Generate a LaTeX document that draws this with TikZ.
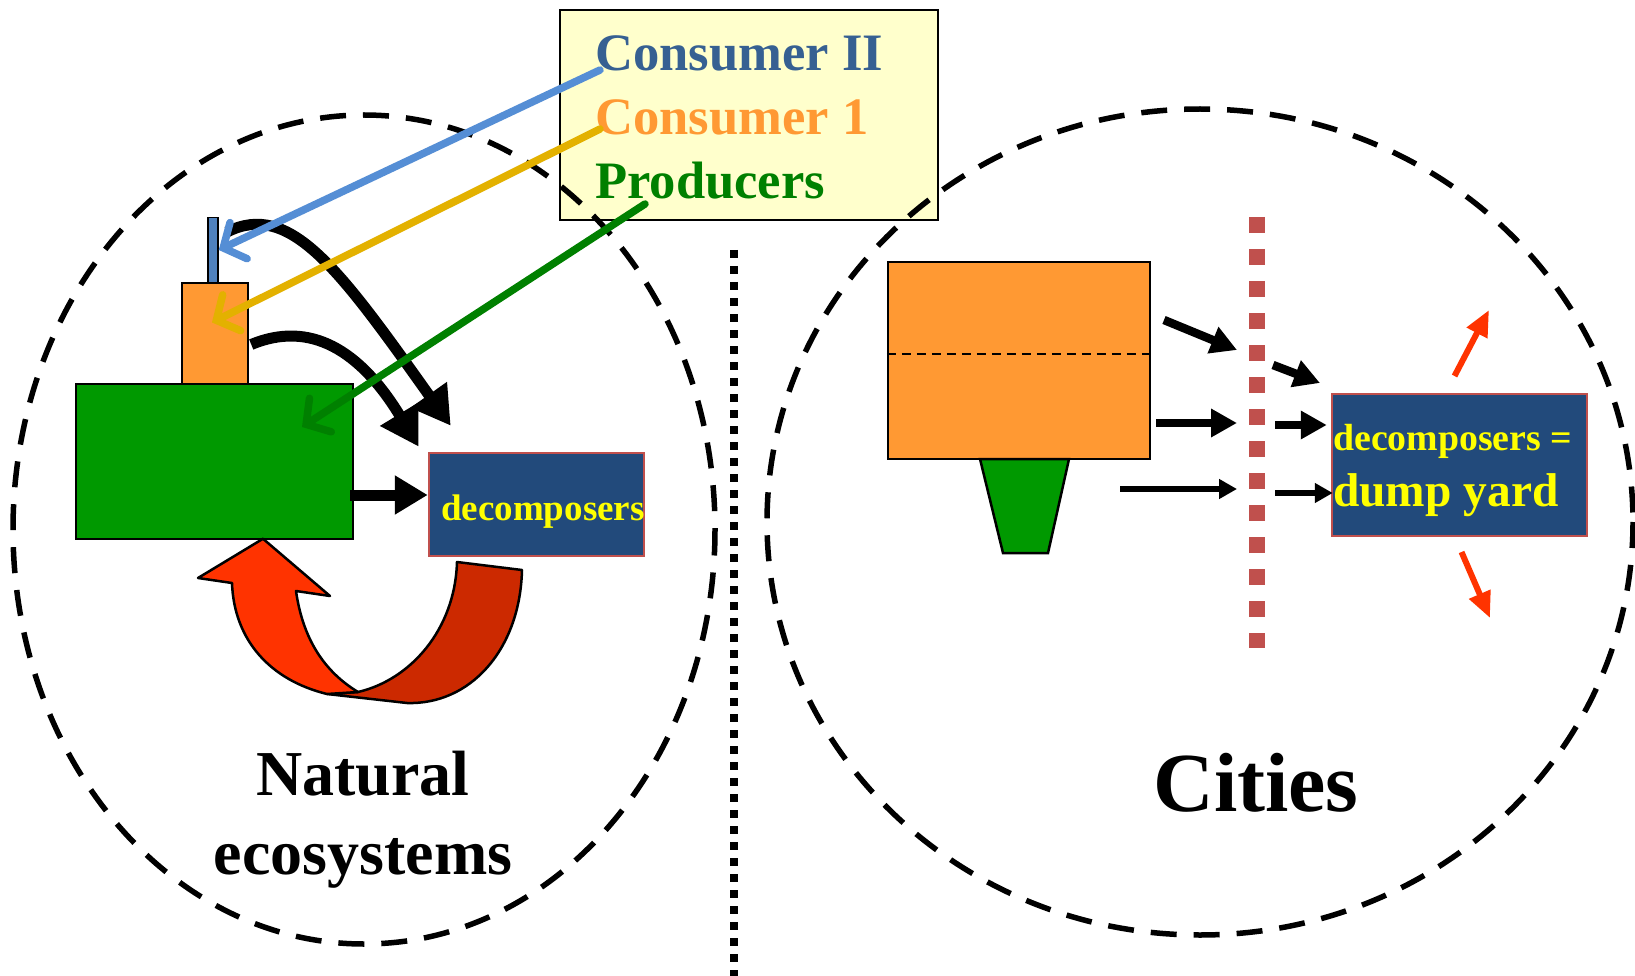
\documentclass[tikz,border=0pt]{standalone}
\usepackage{fontspec}
\setmainfont{Liberation Serif}
\usetikzlibrary{arrows.meta}

\definecolor{prodgreen}{HTML}{009900}
\definecolor{consorange}{HTML}{FF9933}
\definecolor{barblue}{HTML}{4F81BD}
\definecolor{decblue}{HTML}{224A7B}
\definecolor{decedge}{HTML}{C0504D}
\definecolor{legfill}{HTML}{FFFFCC}
\definecolor{txtblue}{HTML}{366092}
\definecolor{txtgreen}{HTML}{008000}
\definecolor{lineblue}{HTML}{558ED5}
\definecolor{linegold}{HTML}{E3B100}
\definecolor{arrowred}{HTML}{FF3300}
\definecolor{arrowdark}{HTML}{CC2900}
\definecolor{txtyellow}{HTML}{FFFF00}

\begin{document}
\begin{tikzpicture}[x=1pt,y=-1pt,
  box/.style={draw=black, line width=2.5pt, inner sep=0pt, anchor=center},
  label/.style={inner sep=0pt, anchor=base west, font=\bfseries},
  title/.style={inner sep=0pt, anchor=base, font=\bfseries\fontsize{64}{70}\selectfont},
  ring/.style={draw=black, line width=5.5pt, dash pattern=on 26pt off 17pt},
  flow/.style={line width=11pt, -{Triangle[length=38pt,width=42pt]}},
  pointer/.style={line width=7.5pt, line cap=round, -{Straight Barb[length=17pt,width=40pt,line cap=round]}},
  wide/.style={line width=8.5pt, -{Triangle[length=26pt,width=27pt]}},
  slim/.style={line width=5.5pt, -{Triangle[length=18pt,width=19pt]}},
  spill/.style={arrowred, line width=6pt, -{Triangle[length=26pt,width=22pt]}}]

\useasboundingbox (0,0) rectangle (1635,976);
\fill[white] (0,0) rectangle (1635,976);

% legend box with the three trophic levels
\node[box, fill=legfill, minimum width=378pt, minimum height=210pt] (leg) at (749,115) {};
\node[label, text=txtblue, font=\bfseries\fontsize{52.6}{60}\selectfont] (t2) at (595,71) {Consumer II};
\node[label, text=consorange, font=\bfseries\fontsize{52.6}{60}\selectfont] (t1) at (595,135) {Consumer 1};
\node[label, text=txtgreen, font=\bfseries\fontsize{52.6}{60}\selectfont] (t0) at (595,199) {Producers};

% the two systems
\draw[ring] (364,529.5) ellipse [x radius=351, y radius=414.5];
\draw[ring] (1200,522) ellipse [x radius=433, y radius=413];

% divider between the two halves
\draw[line width=8pt, dash pattern=on 8pt off 8pt] (734,250) -- (734,976);

% ---------------- natural ecosystem ----------------
\node[box, fill=consorange, minimum width=66pt, minimum height=103pt] (c1) at (215,334.5) {};
\node[box, fill=prodgreen, minimum width=277pt, minimum height=155pt] (prod) at (214.5,461.5) {};
\node[box, line width=1.5pt, fill=barblue, minimum width=10pt, minimum height=65pt] (c2) at (213,250) {};
\node[box, draw=decedge, fill=decblue, minimum width=215pt, minimum height=103pt] (dec) at (536.5,504.5) {};
\node[label, text=txtyellow, font=\bfseries\fontsize{37}{42}\selectfont] (dect) at (441,520) {decomposers};

% flows into the decomposers
\draw[flow] ([shift={(2,10)}]c1.east) .. controls (310,320) and (360,350) .. ([shift={(-9,-5)}]dec.north west);
\draw[flow] ([shift={(14,-18)}]c2.center) .. controls (290,200) and (340,270) .. ([shift={(23,-26)}]dec.north west);
\draw[line width=11pt, -{Triangle[length=33pt,width=37pt]}] ([shift={(-4,33.5)}]prod.east) -- ([shift={(0,-9.5)}]dec.west);

% pointers from the legend
\draw[pointer, lineblue] ([shift={(5,-1)}]t2.base west) -- (c2.east);
\draw[pointer, linegold] ([shift={(5,-6)}]t1.base west) -- ([shift={(-3,-12)}]c1.center);
\draw[pointer, txtgreen] ([shift={(50,5)}]t0.base west) -- ([shift={(87.5,-34.5)}]prod.center);

% recycling arrow back to the producers
\draw[line width=2.5pt, line join=round, fill=arrowdark]
  (457,562) -- (522,570) .. controls (520,650) and (470,705) .. (407,703)
  -- (327,694) -- (358,692) .. controls (410,680) and (455,630) .. (457,562) -- cycle;
\draw[line width=2.5pt, line join=round, fill=arrowred]
  ([shift={(48.5,-1.5)}]prod.south) -- (330,596) -- (296,591)
  .. controls (303,640) and (325,672) .. (358,692) -- (327,694)
  .. controls (270,680) and (234,640) .. (232,583) -- (198,578) -- cycle;

\node[title] (nat) at (363,795) {Natural};
\node[title] (eco) at (363,874) {ecosystems};

% ---------------- cities ----------------
\node[box, fill=consorange, minimum width=262pt, minimum height=197pt] (city) at (1019,360.5) {};
\draw[line width=2.5pt, dash pattern=on 9pt off 6pt] (city.west |- 0,354) -- ([shift={(5,0)}]city.east |- 0,354);
\draw[line width=2.5pt, fill=prodgreen] (980,459) -- (1069,459) -- (1048,553) -- (1003,553) -- cycle;

% city boundary
\draw[decedge, line width=16pt, dash pattern=on 16pt off 16pt] (1257,217) -- (1257,648);

\node[box, draw=decedge, fill=decblue, minimum width=255pt, minimum height=142pt] (dump) at (1459.5,465) {};
\node[label, text=txtyellow, font=\bfseries\fontsize{37.8}{42}\selectfont] (dumpa) at (1333,450) {decomposers =};
\node[label, text=txtyellow, font=\bfseries\fontsize{47.4}{52}\selectfont] (dumpb) at (1333,506) {dump yard};

\coordinate (a1s) at (1164,320); \coordinate (a1e) at (1237,350);
\coordinate (a2s) at (1156,423); \coordinate (a2e) at (1237,423);
\coordinate (a3s) at (1120,489); \coordinate (a3e) at (1237,489);
\draw[wide] (a1s) -- (a1e);
\draw[wide] (a2s) -- (a2e);
\draw[slim] (a3s) -- (a3e);

\coordinate (b1s) at (1273,365); \coordinate (b1e) at (1320,383);
\draw[wide] (b1s) -- (b1e);
\draw[wide] (1275,425) -- ([shift={(-4,-40)}]dump.west);
\draw[slim] (1275,493) -- ([shift={(2,28)}]dump.west);

% waste spilling out of the city
\draw[spill] ([shift={(-5,-89)}]dump.center) -- (1489,310);
\draw[spill] ([shift={(2,87)}]dump.center) -- (1490,618);

\node[title, font=\bfseries\fontsize{84}{90}\selectfont] (cities) at (1256,811) {Cities};
\end{tikzpicture}
\end{document}
